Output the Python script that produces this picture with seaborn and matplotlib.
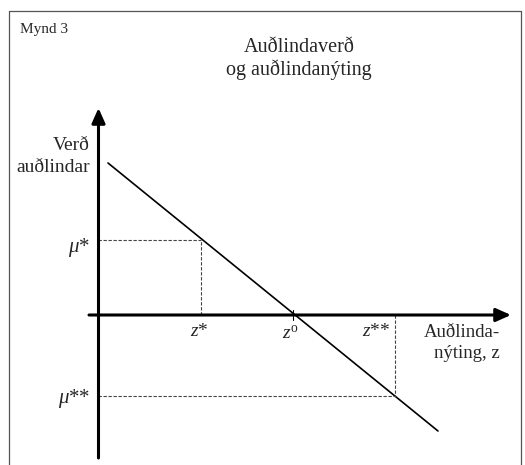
import matplotlib
matplotlib.use('Agg')
import matplotlib.pyplot as plt
from matplotlib.lines import Line2D
import seaborn as sns

# Data (arbitrary units: z = use of resource, p = resource price)
line_z = [0.095, 3.395]      # demand line end points
line_p = [1.52, -1.16]
z_star, mu_star = 1.025, 0.75
z_o = 1.945
z_ss, mu_ss = 2.965, -0.81

sns.set_style('white')
plt.rcParams['font.family'] = ['Liberation Serif', 'DejaVu Serif']
plt.rcParams['mathtext.fontset'] = 'custom'
plt.rcParams['mathtext.it'] = 'Liberation Serif:italic'
plt.rcParams['mathtext.rm'] = 'Liberation Serif'

fig = plt.figure(figsize=(5.25, 4.65), dpi=100)
ax = fig.add_axes([0, 0, 1, 1])
ax.set_xlim(-0.985, 4.265)
ax.set_ylim(-1.50, 3.15)
ax.axis('off')

# outer frame
fc = '#555555'
fig.add_artist(Line2D([9 / 525, 9 / 525], [0, 1 - 11 / 465], color=fc, lw=0.9))
fig.add_artist(Line2D([9 / 525, 521 / 525], [1 - 11 / 465, 1 - 11 / 465], color=fc, lw=0.9))
fig.add_artist(Line2D([521 / 525, 521 / 525], [0, 1 - 11 / 465], color=fc, lw=0.9))

# axes with arrow heads
arrow = dict(arrowstyle='-|>,head_length=0.45,head_width=0.2', lw=2.2, color='black',
             mutation_scale=20, shrinkA=0, shrinkB=0)
ax.annotate('', xy=(0, 2.07), xytext=(0, -1.43), arrowprops=arrow)
ax.annotate('', xy=(4.125, 0), xytext=(-0.095, 0), arrowprops=arrow)

# demand line
sns.lineplot(x=line_z, y=line_p, ax=ax, color='black', lw=1.2)

# dotted guide lines
dash = dict(color='#444444', lw=0.8, dashes=(3, 1.5))
ax.plot([0, z_star], [mu_star, mu_star], **dash)
ax.plot([z_star, z_star], [0, mu_star], **dash)
ax.plot([0, z_ss], [mu_ss, mu_ss], **dash)
ax.plot([z_ss, z_ss], [0, mu_ss], **dash)
ax.plot([z_o, z_o], [-0.05, 0.05], color='black', lw=0.8)

# texts
fig.text(20 / 525, 1 - 30 / 465, 'Mynd 3', fontsize=11, va='center', ha='left')
fig.text(299 / 525, 1 - 47 / 465, 'Auðlindaverð', fontsize=14.5, va='center', ha='center')
fig.text(299 / 525, 1 - 70 / 465, 'og auðlindanýting', fontsize=14.5, va='center', ha='center')

ax.text(-0.085, 1.70, 'Verð', fontsize=14, ha='right', va='center')
ax.text(-0.085, 1.48, 'auðlindar', fontsize=14, ha='right', va='center')
ax.text(-0.085, mu_star - 0.07, '$\\mu$*', fontsize=15, ha='right', va='center')
ax.text(-0.085, mu_ss - 0.02, '$\\mu$**', fontsize=15, ha='right', va='center')
ax.text(z_star - 0.02, -0.16, '$z$*', fontsize=14, ha='center', va='center')
ax.text(z_o - 0.03, -0.18, '$z^{\\mathrm{o}}$', fontsize=14, ha='center', va='center')
ax.text(z_ss - 0.19, -0.16, '$z$**', fontsize=14, ha='center', va='center')
ax.text(4.015, -0.17, 'Auðlinda-', fontsize=13.5, ha='right', va='center')
ax.text(4.015, -0.38, 'nýting, z', fontsize=13.5, ha='right', va='center')

fig.savefig('out.png', dpi=100)
